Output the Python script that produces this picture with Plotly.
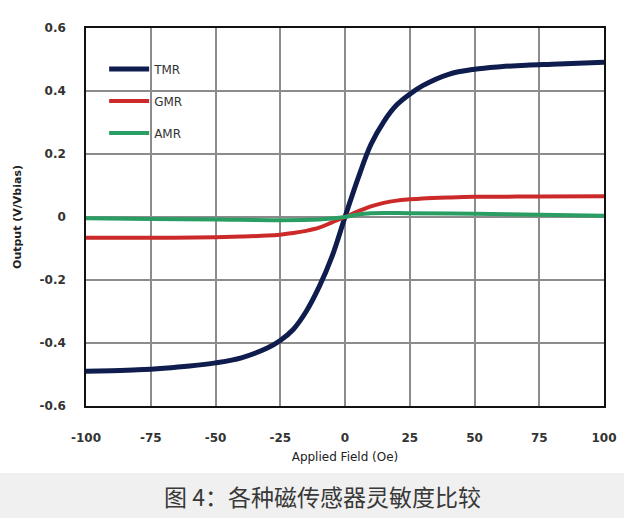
import plotly.graph_objects as go

# readings
tmr_field = [-100, -90, -80, -70, -60, -50, -40, -30, -25, -20, -15, -10, -5, 0,
             5, 10, 15, 20, 25, 30, 40, 50, 60, 70, 80, 90, 100]
tmr_out = [-0.490, -0.488, -0.485, -0.480, -0.473, -0.463, -0.447, -0.416, -0.392,
           -0.357, -0.300, -0.222, -0.125, 0.0, 0.122, 0.230, 0.303, 0.356, 0.390,
           0.417, 0.453, 0.469, 0.477, 0.482, 0.485, 0.488, 0.491]

gmr_field = [-100, -75, -50, -40, -30, -25, -20, -15, -10, -5, 0,
             5, 10, 15, 20, 25, 30, 40, 50, 75, 100]
gmr_out = [-0.066, -0.066, -0.064, -0.062, -0.059, -0.056, -0.051, -0.044, -0.034,
           -0.017, 0.0, 0.018, 0.034, 0.045, 0.052, 0.056, 0.059, 0.062, 0.064,
           0.065, 0.066]

amr_field = [-100, -75, -50, -25, -10, -5, 0, 5, 10, 25, 50, 75, 100]
amr_out = [-0.004, -0.006, -0.008, -0.010, -0.008, -0.005, 0.0, 0.008, 0.012,
           0.012, 0.010, 0.007, 0.004]

x_ticks = [-100, -75, -50, -25, 0, 25, 50, 75, 100]
x_tick_text = ["-100", "-75", "-50", "-25", "0", "25", "50", "75", "100"]
y_ticks = [-0.6, -0.4, -0.2, 0, 0.2, 0.4, 0.6]
y_tick_text = ["-0.6", "-0.4", "-0.2", "0", "0.2", "0.4", "0.6"]

fig = go.Figure()
fig.add_trace(go.Scatter(x=tmr_field, y=tmr_out, name="TMR", mode="lines", legendgroup="a",
                         line=dict(color="#0e1d4d", width=5, shape="spline", smoothing=1)))
fig.add_trace(go.Scatter(x=gmr_field, y=gmr_out, name="GMR", mode="lines", legendgroup="b",
                         line=dict(color="#cc2a2a", width=4, shape="spline", smoothing=1)))
fig.add_trace(go.Scatter(x=amr_field, y=amr_out, name="AMR", mode="lines", legendgroup="c",
                         line=dict(color="#2a9d62", width=4, shape="spline", smoothing=1)))

tick_font = dict(family="DejaVu Sans", size=12, color="#333333", weight="bold")

fig.update_xaxes(range=[-100, 100], tickvals=x_ticks, ticktext=x_tick_text, tickfont=tick_font,
                 showgrid=True, gridcolor="#8c8c8c", gridwidth=1.5, zeroline=False,
                 showline=True, linecolor="#111111", linewidth=1.5, mirror=True,
                 ticks="", ticklabelstandoff=20, automargin=False,
                 title=dict(text="Applied Field (Oe)", standoff=8,
                            font=dict(family="DejaVu Sans", size=12, color="#222222")))
fig.update_yaxes(range=[-0.6, 0.6], tickvals=y_ticks, ticktext=y_tick_text, tickfont=tick_font,
                 showgrid=True, gridcolor="#8c8c8c", gridwidth=1.5, zeroline=False,
                 showline=True, linecolor="#111111", linewidth=1.5, mirror=True,
                 ticks="", ticklabelstandoff=16, automargin=False,
                 title=dict(text="Output (V/Vbias)", standoff=16,
                            font=dict(family="DejaVu Sans", size=11, color="#222222",
                                      weight="bold")))

# grey caption band under the chart
fig.add_shape(type="rect", xref="paper", yref="paper", x0=-0.2, x1=1.1, y0=-0.177, y1=-0.35,
              fillcolor="#f0f0f0", line_width=0, layer="below")
fig.add_annotation(text="图 4：各种磁传感器灵敏度比较", xref="paper", yref="paper",
                   x=0.457, y=-0.238, xanchor="center", yanchor="middle", showarrow=False,
                   font=dict(family="Noto Sans CJK SC", size=23, color="#383838"))

fig.update_layout(
    width=624, height=518,
    plot_bgcolor="white", paper_bgcolor="white",
    margin=dict(l=86, r=20, t=28, b=112),
    legend=dict(x=0.035, y=0.93, xanchor="left", yanchor="top", tracegroupgap=13,
                bgcolor="rgba(0,0,0,0)", itemwidth=40,
                font=dict(family="DejaVu Sans", size=12, color="#333333")),
)

# page body has a default 8px margin, drop it so the figure sits at the corner
fig.write_html("out.html", config={"displayModeBar": False},
               post_script="document.body.style.margin='0';")
